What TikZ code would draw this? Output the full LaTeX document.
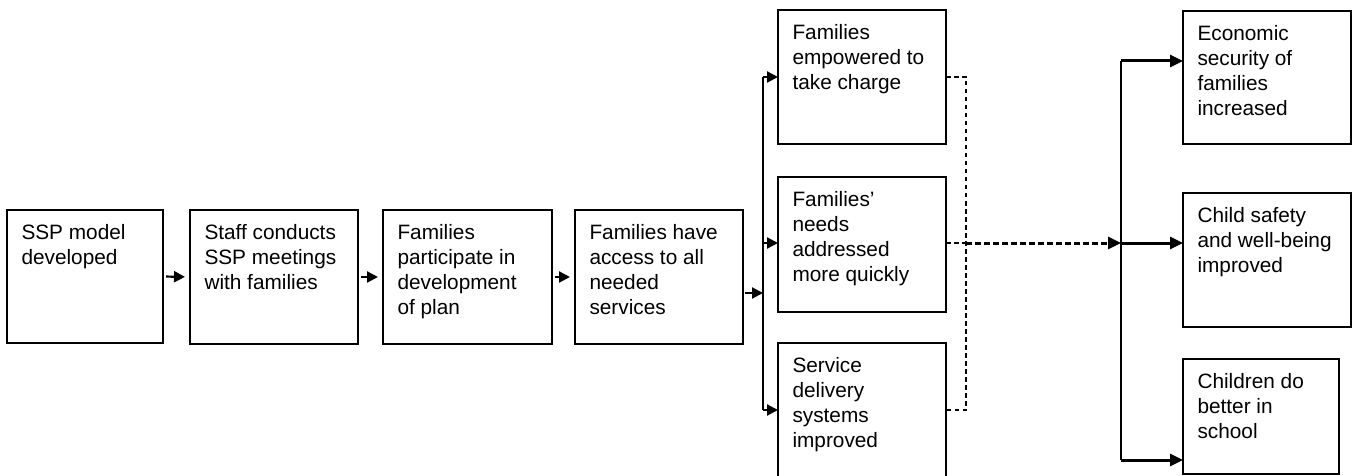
\documentclass[tikz,border=0pt]{standalone}
\usepackage{fontspec}
\setmainfont{Liberation Sans}
\usetikzlibrary{arrows.meta,calc}
\tikzset{
  box/.style={draw=black, line width=1.8pt, inner sep=0pt, outer sep=0pt, anchor=north west, fill=white},
  txt/.style={anchor=north west, inner sep=0pt, outer sep=0pt, align=left,
    font=\fontsize{20.8}{25.3}\selectfont},
  arr/.style={line width=2.2pt, -{Triangle[length=11pt,width=11pt]}},
  bigarr/.style={line width=3pt, -{Triangle[length=13pt,width=12pt]}},
  trunk/.style={line width=2pt},
  thindash/.style={line width=1.6pt, dash pattern=on 4.5pt off 3.5pt},
  thickdash/.style={line width=3pt, dash pattern=on 6pt off 3pt, -{Triangle[length=13pt,width=12pt]}}
}
\newcommand{\mybox}[6]{%
  \node[box, minimum width=#4-#2, minimum height=#5-#3] (#1) at (#2,#3) {};
  \node[txt] (#1t) at ($(#1.north west)+(14.5,14)$) {\rule{0pt}{15pt}#6};
}
\begin{document}
\begin{tikzpicture}[x=1pt,y=-1pt]
\clip (0,0) rectangle (1353,476);
\fill[white] (0,0) rectangle (1353,476);
% chain boxes
\mybox{b1}{7}{210}{163}{343}{SSP model\\developed}
\mybox{b2}{190}{210}{358}{344}{Staff conducts\\SSP meetings\\with families}
\mybox{b3}{383}{210}{552}{344}{Families\\participate in\\development\\of plan}
\mybox{b4}{575}{210}{743}{344}{Families have\\access to all\\needed\\services}
% middle column
\mybox{c1}{778}{10}{946}{144}{Families\\empowered to\\take charge}
\mybox{c2}{778}{177}{946}{312}{Families’\\needs\\addressed\\more quickly}
\mybox{c3}{778}{343}{946}{480}{Service\\delivery\\systems\\improved}
% right column
\mybox{r1}{1183}{11}{1351}{144}{Economic\\security of\\families\\increased}
\mybox{r2}{1183}{193}{1351}{327}{Child safety\\and well-being\\improved}
\mybox{r3}{1183}{359}{1339}{474}{Children do\\better in\\school}
% chain arrows
\draw[arr, shorten <=3pt, shorten >=5pt] (b1.east) -- (b2.west);
\draw[arr, shorten <=3pt, shorten >=5pt] (b2.east) -- (b3.west);
\draw[arr, shorten <=3pt, shorten >=5pt] (b3.east) -- (b4.west);
% branch
\coordinate (j1) at (763,293);
\coordinate (jt) at (763,77);
\coordinate (j2) at (763,243);
\coordinate (jb) at (763,410);
\draw[arr, shorten <=2pt] (b4.east |- j1) -- (j1);
\draw[trunk] (jt) -- (jb);
\draw[arr] (jt) -- (c1.west |- jt);
\draw[arr] (j2) -- (c2.west |- j2);
\draw[arr] (jb) -- (c3.west |- jb);
% dashed merge
\coordinate (d1) at (966,77);
\coordinate (d2) at (966,243);
\coordinate (d3) at (966,410);
\coordinate (k1) at (1121,61);
\coordinate (k2) at (1121,243);
\coordinate (k3) at (1121,460);
\draw[thindash] (c1.east |- d1) -- (d1) -- (d3) -- (c3.east |- d3);
\draw[thindash] (c2.east |- d2) -- (d2);
\draw[thickdash] (d2) -- (k2);
% right trunk
\draw[trunk] (k1) -- (k3);
\draw[bigarr] (k1) -- (r1.west |- k1);
\draw[bigarr] (k2) -- (r2.west |- k2);
\draw[bigarr] (k3) -- (r3.west |- k3);
\end{tikzpicture}
\end{document}
